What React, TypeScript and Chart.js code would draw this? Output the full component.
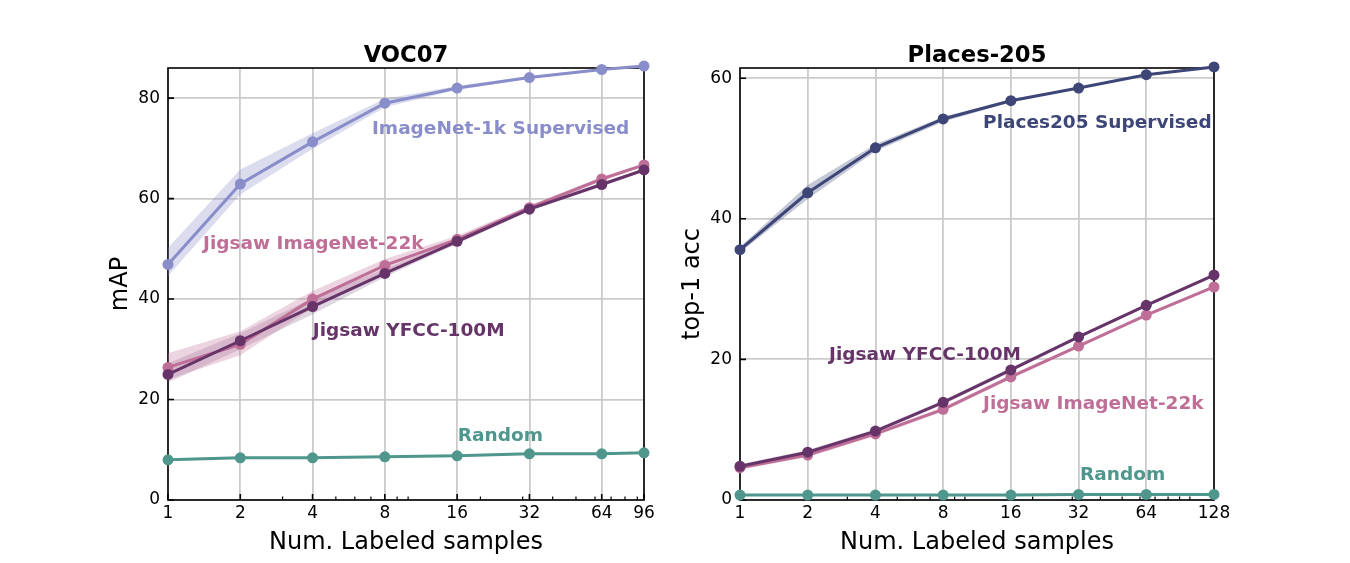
import React, { useEffect, useRef } from "react";
import { Chart, registerables } from "chart.js";

Chart.register(...registerables);

const FONT = "'DejaVu Sans', 'Liberation Sans', sans-serif";

// ---- VOC07 ----
const vocSamples = [1, 2, 4, 8, 16, 32, 64, 96];
const vocImageNet1k = [46.9, 62.9, 71.3, 79.0, 82.0, 84.1, 85.7, 86.4];
const vocImageNet1kLow = [44.6, 60.8, 69.9, 78.2, 81.6, 83.9, 85.5, 86.3];
const vocImageNet1kHigh = [50.2, 65.8, 73.0, 79.9, 82.4, 84.4, 85.9, 86.5];
const vocJigsaw22k = [26.4, 31.0, 40.0, 46.7, 51.9, 58.2, 63.9, 66.7];
const vocJigsaw22kLow = [24.0, 28.8, 38.2, 45.4, 51.0, 57.7, 63.5, 66.4];
const vocJigsaw22kHigh = [29.2, 33.6, 41.6, 48.0, 52.6, 58.7, 64.3, 67.0];
const vocYfcc = [25.0, 31.7, 38.5, 45.1, 51.5, 57.9, 62.8, 65.7];
const vocYfccLow = [23.4, 30.0, 37.0, 44.4, 51.0, 57.5, 62.4, 65.4];
const vocYfccHigh = [27.2, 33.2, 40.2, 46.0, 51.9, 58.3, 63.2, 66.0];
const vocRandom = [8.0, 8.4, 8.4, 8.6, 8.8, 9.2, 9.2, 9.4];

// ---- Places-205 ----
const placesSamples = [1, 2, 4, 8, 16, 32, 64, 128];
const placesSupervised = [35.6, 43.7, 50.1, 54.2, 56.8, 58.6, 60.5, 61.6];
const placesSupervisedLow = [35.2, 42.8, 49.6, 53.8, 56.6, 58.5, 60.4, 61.5];
const placesSupervisedHigh = [36.0, 44.8, 50.6, 54.5, 57.0, 58.7, 60.6, 61.7];
const placesYfcc = [4.8, 6.8, 9.8, 13.9, 18.5, 23.2, 27.7, 32.0];
const placesYfccLow = [4.5, 6.5, 9.5, 13.6, 18.2, 23.0, 27.5, 31.8];
const placesYfccHigh = [5.1, 7.1, 10.1, 14.2, 18.8, 23.4, 27.9, 32.2];
const placesJigsaw22k = [4.6, 6.4, 9.4, 12.9, 17.5, 21.9, 26.3, 30.3];
const placesJigsaw22kLow = [4.3, 6.1, 9.1, 12.6, 17.2, 21.7, 26.1, 30.1];
const placesJigsaw22kHigh = [4.9, 6.7, 9.7, 13.2, 17.8, 22.1, 26.5, 30.5];
const placesRandom = [0.7, 0.7, 0.7, 0.7, 0.7, 0.8, 0.8, 0.8];

// ---- axis ticks ----
const vocXTicks = [1, 2, 4, 8, 16, 32, 64, 96];
const placesXTicks = [1, 2, 4, 8, 16, 32, 64, 128];
const vocXMinor = [3, 5, 6, 7, 9, 10, 20, 30, 40, 50, 60, 70, 80, 90];
const placesXMinor = [3, 5, 6, 7, 9, 10, 20, 30, 40, 50, 60, 70, 80, 90, 100];
const vocYTicks = [0, 20, 40, 60, 80];
const placesYTicks = [0, 20, 40, 60];

const COLORS = {
  imagenet1k: "#898dc9",
  jigsaw22k: "#bf6f97",
  yfcc: "#663468",
  random: "#4f968c",
  places: "#3d4677",
};

const rgba = (hex: string, a: number) => {
  const n = parseInt(hex.slice(1), 16);
  return `rgba(${(n >> 16) & 255},${(n >> 8) & 255},${n & 255},${a})`;
};

const pts = (xs: number[], ys: number[]) => xs.map((x, i) => ({ x, y: ys[i] }));

type Note = { text: string; x: number; y: number; color: string };

const vocNotes: Note[] = [
  { text: "ImageNet-1k Supervised", x: 7.07, y: 72.9, color: COLORS.imagenet1k },
  { text: "Jigsaw ImageNet-22k", x: 1.4, y: 49.9, color: COLORS.jigsaw22k },
  { text: "Jigsaw YFCC-100M", x: 4.01, y: 32.7, color: COLORS.yfcc },
  { text: "Random", x: 16.1, y: 11.8, color: COLORS.random },
];

const placesNotes: Note[] = [
  { text: "Places205 Supervised", x: 12.04, y: 52.9, color: COLORS.places },
  { text: "Jigsaw YFCC-100M", x: 2.49, y: 19.9, color: COLORS.yfcc },
  { text: "Jigsaw ImageNet-22k", x: 12.04, y: 12.9, color: COLORS.jigsaw22k },
  { text: "Random", x: 32.5, y: 2.85, color: COLORS.random },
];

function lineSet(xs: number[], ys: number[], color: string, order: number) {
  return {
    data: pts(xs, ys),
    borderColor: color,
    backgroundColor: color,
    borderWidth: 3,
    pointRadius: 5.5,
    pointBorderWidth: 0,
    pointBackgroundColor: color,
    fill: false,
    clip: false as const,
    order,
  };
}

function bandSets(xs: number[], lo: number[], hi: number[], color: string, alpha: number) {
  return [
    {
      data: pts(xs, hi),
      borderWidth: 0,
      pointRadius: 0,
      borderColor: "transparent",
      backgroundColor: rgba(color, alpha),
      fill: "+1",
      order: 10,
    },
    {
      data: pts(xs, lo),
      borderWidth: 0,
      pointRadius: 0,
      borderColor: "transparent",
      backgroundColor: "transparent",
      fill: false,
      order: 10,
    },
  ];
}

type PanelCfg = {
  title: string;
  yLabel: string;
  xMax: number;
  yMax: number;
  xTicks: number[];
  xMinor: number[];
  yTicks: number[];
  notes: Note[];
  datasets: any[];
  areaLeft: number;
  areaRight: number;
};

// fixed box sizes for the tick-label strips, so the plot area lands where it should
const Y_STRIP = 70;
const X_STRIP = 40;
const AREA_TOP = 68;
const AREA_BOTTOM = 500;
const CANVAS_W = 675;
const CANVAS_H = 563;

function makeDecor(cfg: PanelCfg) {
  return {
    id: "decor",
    beforeDatasetsDraw(chart: any) {
      const { ctx, chartArea: a } = chart;
      const xs = chart.scales.x;
      const ys = chart.scales.y;
      ctx.save();
      ctx.strokeStyle = "#000";
      ctx.lineWidth = 1.6;
      ctx.strokeRect(a.left, a.top, a.right - a.left, a.bottom - a.top);
      ctx.beginPath();
      for (const v of cfg.xTicks) {
        const px = xs.getPixelForValue(v);
        ctx.moveTo(px, a.bottom);
        ctx.lineTo(px, a.bottom - 6);
      }
      for (const v of cfg.yTicks) {
        const py = ys.getPixelForValue(v);
        ctx.moveTo(a.left, py);
        ctx.lineTo(a.left + 6, py);
      }
      ctx.stroke();
      ctx.lineWidth = 1.2;
      ctx.beginPath();
      for (const v of cfg.xMinor) {
        if (v > cfg.xMax) continue;
        const px = xs.getPixelForValue(v);
        ctx.moveTo(px, a.bottom);
        ctx.lineTo(px, a.bottom - 3.5);
      }
      ctx.stroke();
      ctx.restore();
    },
    afterDraw(chart: any) {
      const { ctx, chartArea: a } = chart;
      const xs = chart.scales.x;
      const ys = chart.scales.y;
      const cx = (a.left + a.right) / 2;
      ctx.save();
      ctx.fillStyle = "#000";
      ctx.textAlign = "center";
      ctx.textBaseline = "alphabetic";
      ctx.font = `bold 22.7px ${FONT}`;
      ctx.fillText(cfg.title, cx, 62);
      ctx.font = `24px ${FONT}`;
      ctx.fillText("Num. Labeled samples", cx, 549);
      ctx.save();
      ctx.translate(a.left - 41, (a.top + a.bottom) / 2);
      ctx.rotate(-Math.PI / 2);
      ctx.fillText(cfg.yLabel, 0, 0);
      ctx.restore();
      ctx.textAlign = "left";
      ctx.font = `bold 18.5px ${FONT}`;
      for (const n of cfg.notes) {
        ctx.fillStyle = n.color;
        ctx.fillText(n.text, xs.getPixelForValue(n.x), ys.getPixelForValue(n.y));
      }
      ctx.restore();
    },
  };
}

function makeConfig(cfg: PanelCfg): any {
  return {
    type: "line",
    data: { datasets: cfg.datasets },
    plugins: [makeDecor(cfg)],
    options: {
      responsive: false,
      animation: false,
      events: [],
      layout: {
        padding: {
          left: cfg.areaLeft - Y_STRIP,
          right: CANVAS_W - cfg.areaRight,
          top: AREA_TOP,
          bottom: CANVAS_H - AREA_BOTTOM - X_STRIP,
        },
      },
      plugins: { legend: { display: false }, tooltip: { enabled: false }, title: { display: false } },
      scales: {
        x: {
          type: "logarithmic",
          min: 1,
          max: cfg.xMax,
          bounds: "data",
          afterBuildTicks: (s: any) => {
            s.ticks = cfg.xTicks.map((v) => ({ value: v }));
          },
          afterFit: (s: any) => {
            s.height = X_STRIP;
          },
          grid: { color: "#cbcbcb", lineWidth: 1.8, drawTicks: false },
          border: { display: false },
          ticks: {
            callback: (v: any) => String(v),
            color: "#000",
            font: { family: FONT, size: 17 },
            padding: 3,
            autoSkip: false,
            maxRotation: 0,
          },
        },
        y: {
          type: "linear",
          min: 0,
          max: cfg.yMax,
          bounds: "data",
          afterBuildTicks: (s: any) => {
            s.ticks = cfg.yTicks.map((v) => ({ value: v }));
          },
          afterFit: (s: any) => {
            s.width = Y_STRIP;
          },
          grid: { color: "#cbcbcb", lineWidth: 1.8, drawTicks: false },
          border: { display: false },
          ticks: {
            callback: (v: any) => String(v),
            color: "#000",
            font: { family: FONT, size: 17 },
            padding: 8,
          },
        },
      },
    },
  };
}

const vocPanel: PanelCfg = {
  title: "VOC07",
  yLabel: "mAP",
  xMax: 96,
  yMax: 86,
  xTicks: vocXTicks,
  xMinor: vocXMinor,
  yTicks: vocYTicks,
  notes: vocNotes,
  areaLeft: 168,
  areaRight: 644,
  datasets: [
    lineSet(vocSamples, vocRandom, COLORS.random, 1),
    lineSet(vocSamples, vocYfcc, COLORS.yfcc, 2),
    lineSet(vocSamples, vocJigsaw22k, COLORS.jigsaw22k, 3),
    lineSet(vocSamples, vocImageNet1k, COLORS.imagenet1k, 4),
    ...bandSets(vocSamples, vocImageNet1kLow, vocImageNet1kHigh, COLORS.imagenet1k, 0.3),
    ...bandSets(vocSamples, vocJigsaw22kLow, vocJigsaw22kHigh, COLORS.jigsaw22k, 0.3),
    ...bandSets(vocSamples, vocYfccLow, vocYfccHigh, COLORS.yfcc, 0.2),
  ],
};

const placesPanel: PanelCfg = {
  title: "Places-205",
  yLabel: "top-1 acc",
  xMax: 128,
  yMax: 61.45,
  xTicks: placesXTicks,
  xMinor: placesXMinor,
  yTicks: placesYTicks,
  notes: placesNotes,
  areaLeft: 65,
  areaRight: 539,
  datasets: [
    lineSet(placesSamples, placesRandom, COLORS.random, 1),
    lineSet(placesSamples, placesYfcc, COLORS.yfcc, 2),
    lineSet(placesSamples, placesJigsaw22k, COLORS.jigsaw22k, 3),
    lineSet(placesSamples, placesSupervised, COLORS.places, 4),
    ...bandSets(placesSamples, placesSupervisedLow, placesSupervisedHigh, COLORS.places, 0.3),
    ...bandSets(placesSamples, placesJigsaw22kLow, placesJigsaw22kHigh, COLORS.jigsaw22k, 0.3),
    ...bandSets(placesSamples, placesYfccLow, placesYfccHigh, COLORS.yfcc, 0.2),
  ],
};

export default function App() {
  const leftRef = useRef<HTMLCanvasElement>(null);
  const rightRef = useRef<HTMLCanvasElement>(null);

  useEffect(() => {
    const charts: Chart[] = [];
    if (leftRef.current) charts.push(new Chart(leftRef.current, makeConfig(vocPanel)));
    if (rightRef.current) charts.push(new Chart(rightRef.current, makeConfig(placesPanel)));
    return () => charts.forEach((c) => c.destroy());
  }, []);

  return (
    <div style={{ position: "absolute", left: 0, top: 0, width: 1350, height: 563, background: "#fff" }}>
      <canvas ref={leftRef} width={CANVAS_W} height={CANVAS_H} style={{ position: "absolute", left: 0, top: 0 }} />
      <canvas ref={rightRef} width={CANVAS_W} height={CANVAS_H} style={{ position: "absolute", left: 675, top: 0 }} />
    </div>
  );
}
